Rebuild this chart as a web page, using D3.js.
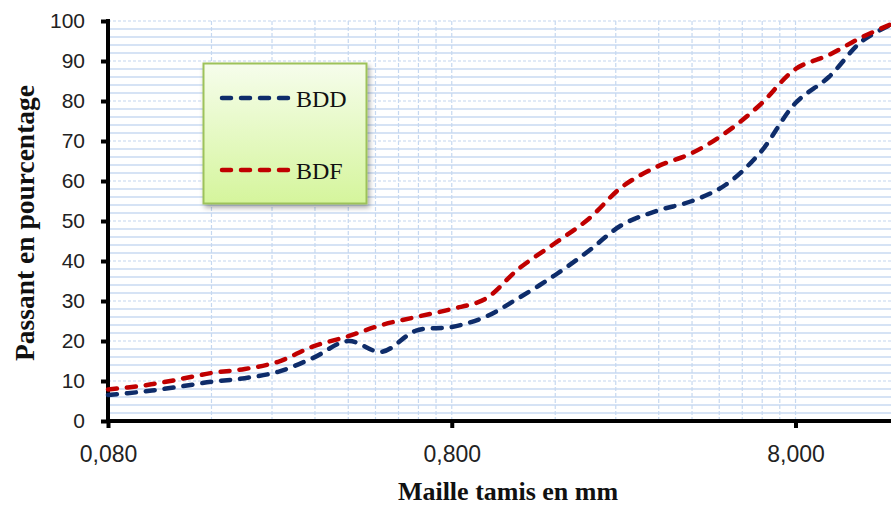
<!DOCTYPE html>
<html><head><meta charset="utf-8">
<script src="https://cdn.jsdelivr.net/npm/d3@7"></script>
<style>html,body{margin:0;padding:0;background:#fff;overflow:hidden}</style>
</head><body>
<script>
const sieves = [0.08,0.1,0.125,0.16,0.2,0.25,0.315,0.4,0.5,0.63,0.8,1,1.25,1.6,2,2.5,3.15,4,5,6.3,8,10,12.5,16];
const bdd = [6.5,7.3,8.4,9.8,10.7,12.3,15.7,20,17.3,22.6,23.5,26,30.7,36.5,42.5,49,52.5,55,59,67,79.5,86,95,100];
const bdf = [7.9,8.8,10.2,12,13,14.8,18.6,21.2,24,26,28,30.5,38,44.5,50.5,58.5,63.5,67,72,79,88,91.5,96,100];
const seriesNames = ["BDD","BDF"];
const seriesColors = ["#0e2c6a","#c00000"];
const xTicks = [0.08,0.8,8];
const yTicks = [0,10,20,30,40,50,60,70,80,90,100];
const xTitle = "Maille tamis en mm";
const yTitle = "Passant en pourcentage";

const W = 891, H = 507;
const svg = d3.select("body").append("svg").attr("width",W).attr("height",H);
const x = d3.scaleLog().domain([0.08,16]).range([108,899]);
const y = d3.scaleLinear().domain([0,100]).range([421,21]);

const defs = svg.append("defs");
const grad = defs.append("linearGradient").attr("id","lg").attr("x1",0).attr("y1",0).attr("x2",0).attr("y2",1);
grad.append("stop").attr("offset","0%").attr("stop-color","#f6fdec");
grad.append("stop").attr("offset","100%").attr("stop-color","#d5f59c");
const f = defs.append("filter").attr("id","sh").attr("x","-20%").attr("y","-20%").attr("width","140%").attr("height","140%");
f.append("feDropShadow").attr("dx",2).attr("dy",3).attr("stdDeviation",2.5).attr("flood-color","#000").attr("flood-opacity",0.35);

// grid
const g = svg.append("g");
const minorY = d3.range(0,101,2).filter(v=>v%10!==0);
g.selectAll(".hm").data(minorY).join("line")
  .attr("x1",108).attr("x2",W).attr("y1",d=>y(d)).attr("y2",d=>y(d))
  .attr("stroke","#c9daf2").attr("stroke-width",1.5);
g.selectAll(".hM").data(yTicks.filter(v=>v>0)).join("line")
  .attr("x1",108).attr("x2",W).attr("y1",d=>y(d)).attr("y2",d=>y(d))
  .attr("stroke","#c3d6ef").attr("stroke-width",1.2).attr("stroke-dasharray","3,2");
const vLines = [];
[0.08,0.8,8].forEach(b=>{ for(let k=1;k<=9;k++){ const v=b*k; if(v>0.08 && v<=16) vLines.push(v);} });
g.selectAll(".v").data(vLines).join("line")
  .attr("x1",d=>x(d)).attr("x2",d=>x(d)).attr("y1",21).attr("y2",421)
  .attr("stroke","#c6d8f0").attr("stroke-width",1.2).attr("stroke-dasharray","4,2");

// axes
const ax = svg.append("g");
const yAxis = d3.axisLeft(y).tickValues(yTicks).tickSize(7).tickPadding(16).tickFormat(d3.format("d"));
const ya = ax.append("g").attr("transform","translate(108,0)").call(yAxis);
ya.select(".domain").attr("stroke","#000").attr("stroke-width",4).attr("d","M0,19V423");
ya.selectAll(".tick line").attr("stroke","#000").attr("stroke-width",4);
ya.selectAll(".tick text").attr("font-family","Liberation Sans, Arial, sans-serif").attr("font-size",21).attr("fill","#222");

const xAxis = d3.axisBottom(x).tickValues(xTicks).tickSize(7).tickPadding(18).tickFormat(d=>d.toFixed(3).replace(".",","));
const xa = ax.append("g").attr("transform","translate(0,421)").call(xAxis);
xa.select(".domain").attr("stroke","#000").attr("stroke-width",4).attr("d","M106,0H"+W);
xa.selectAll(".tick line").attr("stroke","#000").attr("stroke-width",4);
xa.selectAll(".tick text").attr("font-family","Liberation Sans, Arial, sans-serif").attr("font-size",23).attr("fill","#222");

// lines
const line = d3.line().x(d=>x(d[0])).y(d=>y(d[1])).curve(d3.curveCatmullRom.alpha(0.5));
[bdd,bdf].forEach((vals,i)=>{
  svg.append("path").datum(sieves.map((s,j)=>[s,vals[j]]))
    .attr("d",line).attr("fill","none").attr("stroke",seriesColors[i])
    .attr("stroke-width",4.5).attr("stroke-linecap","round").attr("stroke-dasharray","9,10");
});

// legend
const lg = svg.append("g");
lg.append("rect").attr("x",203.5).attr("y",63.5).attr("width",163).attr("height",140)
  .attr("fill","url(#lg)").attr("stroke","#9dc25a").attr("stroke-width",2).attr("filter","url(#sh)");
const ly = [98,170];
seriesNames.forEach((n,i)=>{
  lg.append("line").attr("x1",222).attr("x2",290).attr("y1",ly[i]).attr("y2",ly[i])
    .attr("stroke",seriesColors[i]).attr("stroke-width",4.5).attr("stroke-linecap","round").attr("stroke-dasharray","9,10");
  lg.append("text").attr("x",296).attr("y",ly[i]+9).text(n)
    .attr("font-family","Liberation Serif, Times New Roman, serif").attr("font-size",24).attr("fill","#111");
});

// titles
svg.append("text").attr("x",508).attr("y",500).attr("text-anchor","middle").text(xTitle)
  .attr("font-family","Liberation Serif, Times New Roman, serif").attr("font-weight","bold").attr("font-size",26).attr("fill","#111");
svg.append("text").attr("transform","translate(34,223) rotate(-90)").attr("text-anchor","middle").text(yTitle)
  .attr("font-family","Liberation Serif, Times New Roman, serif").attr("font-weight","bold").attr("font-size",27.5).attr("fill","#111");
</script>
</body></html>
